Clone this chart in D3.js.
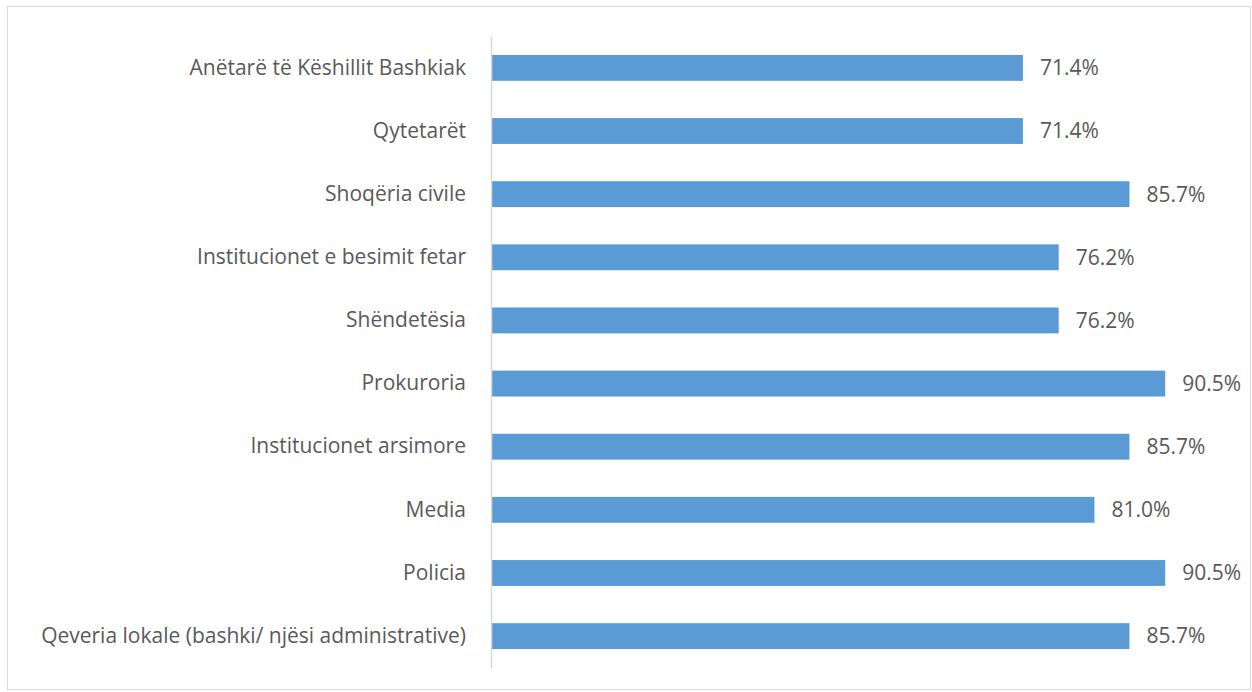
<!DOCTYPE html>
<html>
<head>
<meta charset="utf-8">
<script src="https://cdn.jsdelivr.net/npm/d3@7"></script>
<style>
body { margin: 0; background: #fff; }
text { font-family: "Open Sans", sans-serif; fill: #595959; }
</style>
</head>
<body>
<div id="chart"></div>
<script>

var categories = [
  "Anëtarë të Këshillit Bashkiak",
  "Qytetarët",
  "Shoqëria civile",
  "Institucionet e besimit fetar",
  "Shëndetësia",
  "Prokuroria",
  "Institucionet arsimore",
  "Media",
  "Policia",
  "Qeveria lokale (bashki/ njësi administrative)"
];
var values = [71.4, 71.4, 85.7, 76.2, 76.2, 90.5, 85.7, 81.0, 90.5, 85.7];

var width = 1252;
var height = 692;
var margin = ({top: 36, right: 16, bottom: 24, left: 491});

var svg = d3.select("#chart")
  .append("svg")
    .attr("width", width)
    .attr("height", height);

// outer frame
svg.append("rect")
  .attr("x", 7.5).attr("y", 6.5)
  .attr("width", width - 9).attr("height", height - 9)
  .attr("fill", "none")
  .attr("stroke", "#d9d9d9");

var x_scale = d3.scaleLinear()
  .domain([0, 100])
  .range([margin.left, 1236]);

var y_scale = d3.scaleBand()
  .domain(categories)
  .range([margin.top, height - margin.bottom])
  .paddingInner(0.59)
  .paddingOuter(0.3);

svg.selectAll(".bar")
  .data(values)
  .enter()
    .append("rect")
    .attr("class", "bar")
    .attr("fill", "#5b9bd5")
    .attr("x", x_scale(0))
    .attr("y", (d, i) => y_scale(categories[i]))
    .attr("width", d => x_scale(d) - x_scale(0))
    .attr("height", y_scale.bandwidth());

// y axis
var yAxis = svg.append("g")
  .attr("transform", `translate(${margin.left},0)`)
  .call(d3.axisLeft(y_scale).tickSize(0).tickPadding(25));
yAxis.select(".domain").attr("stroke", "#d9d9d9").attr("stroke-width", 1.5);
yAxis.selectAll("text")
  .style("font-size", "21px")
  .attr("fill", "#595959");

// value labels
svg.selectAll(".val")
  .data(values)
  .enter()
    .append("text")
    .attr("class", "val")
    .attr("x", d => x_scale(d) + 17)
    .attr("y", (d, i) => y_scale(categories[i]) + y_scale.bandwidth() / 2)
    .attr("dy", "0.35em")
    .style("font-size", "21px")
    .text(d => d.toFixed(1) + "%");

</script>
</body>
</html>
